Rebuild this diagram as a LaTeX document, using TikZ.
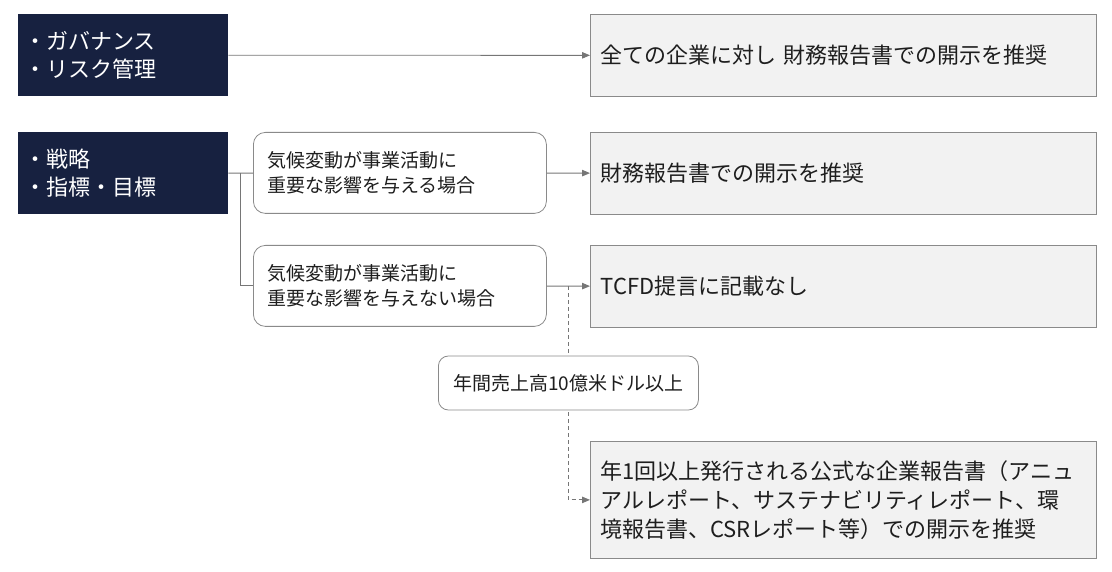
\documentclass[tikz,border=0pt]{standalone}
\usepackage{fontspec}
\setmainfont{Noto Sans CJK JP}
\usetikzlibrary{calc}
\usetikzlibrary{arrows.meta}

\definecolor{navy}{RGB}{23,33,64}
\definecolor{boxfill}{RGB}{242,242,242}
\definecolor{boxline}{RGB}{138,138,138}
\definecolor{linegray}{RGB}{118,118,118}
\definecolor{txt}{RGB}{30,30,30}

\begin{document}
\begin{tikzpicture}[x=1pt,y=-1pt,
  pillar/.style={anchor=north west, fill=navy, text=white, text width=198pt, inner xsep=6pt,
    minimum height=82pt, align=left, font=\fontsize{22}{28}\selectfont},
  result/.style={anchor=north west, fill=boxfill, draw=boxline, line width=.8pt, text=txt,
    text width=486pt, inner xsep=10pt, minimum height=82pt, align=left, font=\fontsize{22}{29}\selectfont},
  case/.style={anchor=north west, fill=white, draw=boxline, line width=.8pt, rounded corners=12pt,
    text=txt, text width=265pt, inner xsep=14pt, minimum height=81pt, align=left, font=\fontsize{19}{25}\selectfont},
  cond/.style={fill=white, draw=boxline, line width=.8pt, rounded corners=10pt, text=txt,
    minimum width=260pt, minimum height=54pt, font=\fontsize{19}{25}\selectfont},
  link/.style={draw=linegray, line width=.9pt},
  tip/.style={-{Triangle[length=8pt,width=6.5pt]}}]
\useasboundingbox (0,0) rectangle (1112,572);

\node[pillar] (gov) at (18,14) {・ガバナンス\\・リスク管理};
\node[pillar] (strat) at (18,132) {・戦略\\・指標・目標};

\node[case] (yes) at (253,132) {気候変動が事業活動に\\重要な影響を与える場合};
\node[case] (no) at (253,245) {気候変動が事業活動に\\重要な影響を与えない場合};

\node[result] (all) at (590,14) {全ての企業に対し 財務報告書での開示を推奨};
\node[result] (fin) at (590,132) {財務報告書での開示を推奨};
\node[result] (none) at (590,245) {TCFD提言に記載なし};
\node[result, minimum height=117pt] (annual) at (590,441)
  {年1回以上発行される公式な企業報告書（アニュ\\アルレポート、サステナビリティレポート、環\\境報告書、CSRレポート等）での開示を推奨};

\draw[link,tip] (gov) -- (all);
\coordinate (fork) at ($(strat.east)+(12,0)$);
\draw[link] (strat) -- (yes);
\draw[link] (fork) |- (no);
\draw[link,tip] (yes) -- (fin);
\draw[link,tip] (no) -- (none);

% dashed branch runs behind the condition box
\coordinate (split) at ($(no.east)!.5!(none.west)$);
\draw[link,tip,dash pattern=on 4pt off 3pt] (split) |- (annual);
\node[cond] (sales) at (split |- 0,383) {年間売上高10億米ドル以上};

\end{tikzpicture}
\end{document}
